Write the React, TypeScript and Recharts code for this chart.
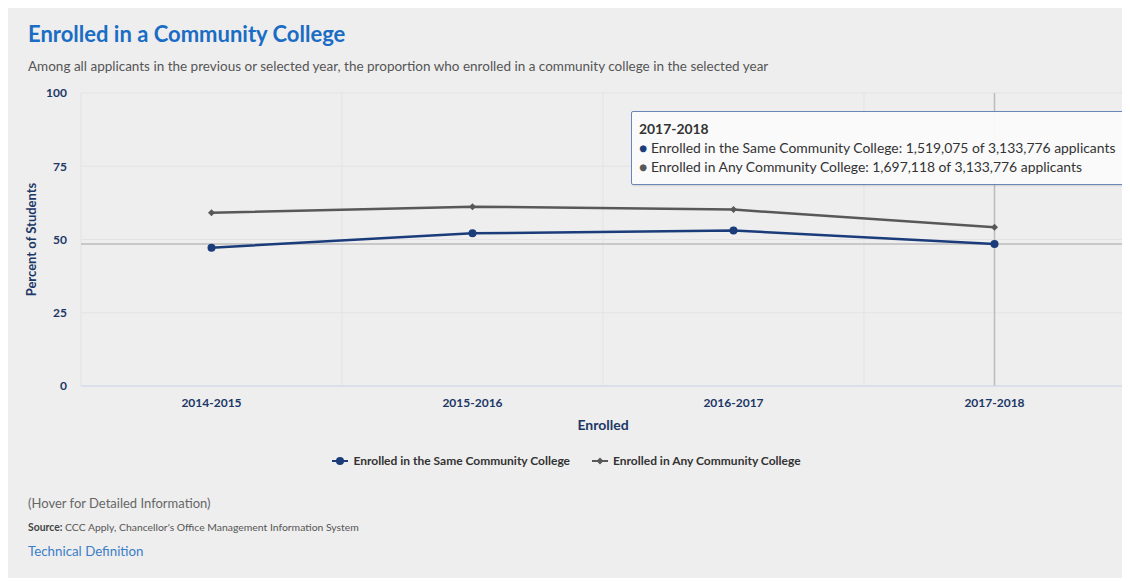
import React from 'react';
import {
  LineChart, Line, XAxis, YAxis, CartesianGrid, Tooltip, Legend, ReferenceLine,
} from 'recharts';

const years = ['2014-2015', '2015-2016', '2016-2017', '2017-2018'];
const sameValues = [47.2, 52.1, 53.1, 48.5];
const anyValues = [59.1, 61.2, 60.2, 54.2];
const yTicks = [0, 25, 50, 75, 100];
const hoverYear = '2017-2018';
const hoverSameCount = '1,519,075';
const hoverAnyCount = '1,697,118';
const hoverTotal = '3,133,776';

const SAME_NAME = 'Enrolled in the Same Community College';
const ANY_NAME = 'Enrolled in Any Community College';
const NAVY = '#1b3c7a';
const GRAY = '#585858';
const AXIS_TEXT = '#1c3766';
const FONT = 'Lato, "Open Sans", sans-serif';

const data = years.map((y, i) => ({ year: y, same: sameValues[i], any: anyValues[i] }));
const hoverIndex = years.indexOf(hoverYear);

const Diamond = (props: any) => {
  const { cx, cy, fill } = props;
  if (cx == null || cy == null) return null;
  const s = 3.5;
  return <path d={`M${cx},${cy - s}L${cx + s},${cy}L${cx},${cy + s}L${cx - s},${cy}Z`} fill={fill} />;
};

const TooltipBox = (props: any) => {
  const { payload, label } = props;
  if (!payload || !payload.length) return null;
  return (
    <div
      style={{
        background: 'rgba(250,250,250,0.97)',
        border: '1px solid #6a86b8',
        borderRadius: 2,
        padding: '7px 8px 8px 7px',
        fontFamily: FONT,
        fontSize: 13.9,
        color: '#333',
        whiteSpace: 'nowrap',
        lineHeight: '19px',
        boxShadow: '1px 1px 2px rgba(0,0,0,0.12)',
      }}
    >
      <div style={{ fontWeight: 700 }}>{label}</div>
      <div>
        <span style={{ color: NAVY }}>●</span> {SAME_NAME}: {hoverSameCount} of {hoverTotal} applicants
      </div>
      <div>
        <span style={{ color: GRAY }}>●</span> {ANY_NAME}: {hoverAnyCount} of {hoverTotal} applicants
      </div>
    </div>
  );
};

const LegendContent = () => {
  const items = [
    { name: SAME_NAME, color: NAVY, shape: 'circle' },
    { name: ANY_NAME, color: GRAY, shape: 'diamond' },
  ];
  return (
    <div style={{ display: 'flex', justifyContent: 'center', gap: 22, fontFamily: FONT, fontSize: 12, fontWeight: 700, color: '#333' }}>
      {items.map((it) => (
        <div key={it.name} style={{ display: 'flex', alignItems: 'center', gap: 5 }}>
          <svg width={16} height={10}>
            <line x1={0} y1={5} x2={16} y2={5} stroke={it.color} strokeWidth={2} />
            {it.shape === 'circle' ? (
              <circle cx={8} cy={5} r={4} fill={it.color} />
            ) : (
              <path d="M8,1.5L11.5,5L8,8.5L4.5,5Z" fill={it.color} />
            )}
          </svg>
          <span>{it.name}</span>
        </div>
      ))}
    </div>
  );
};

export default function App() {
  const vGen = ({ offset }: any) => {
    const n = years.length;
    const pts: number[] = [];
    for (let i = 0; i <= n; i++) pts.push(offset.left + (offset.width * i) / n);
    return pts;
  };
  return (
    <div style={{ position: 'relative', width: 1122, height: 570, background: '#eeeeee', fontFamily: FONT }}>
      <style>{'html,body{overflow:hidden}'}</style>
      <div style={{ position: 'absolute', left: 20, top: 12, fontSize: 22, fontWeight: 700, color: '#1a6cc4' }}>
        Enrolled in a Community College
      </div>
      <div style={{ position: 'absolute', left: 20, top: 50, fontSize: 13.5, color: '#555' }}>
        Among all applicants in the previous or selected year, the proportion who enrolled in a community college in the selected year
      </div>
      <div style={{ position: 'absolute', left: 0, top: 72 }}>
        <LineChart width={1122} height={400} data={data} margin={{ top: 13, right: 5, bottom: 12, left: 0 }}>
          <CartesianGrid stroke="#e3e3e6" verticalCoordinatesGenerator={vGen} />
          <XAxis
            dataKey="year"
            scale="band"
            tickLine={false}
            tickSize={0}
            tickMargin={12}
            height={67}
            axisLine={{ stroke: '#ccd6eb' }}
            tick={{ fill: AXIS_TEXT, fontSize: 12, fontWeight: 700, fontFamily: FONT }}
            label={{ value: 'Enrolled', position: 'insideBottom', offset: 23, fill: AXIS_TEXT, fontSize: 14, fontWeight: 700, fontFamily: FONT }}
          />
          <YAxis
            domain={[0, 100]}
            ticks={yTicks}
            width={73}
            axisLine={false}
            tickLine={false}
            tickSize={0}
            tickMargin={14}
            tick={{ fill: AXIS_TEXT, fontSize: 12, fontWeight: 700, fontFamily: FONT }}
            label={{ value: 'Percent of Students', angle: -90, position: 'insideLeft', offset: 23, style: { textAnchor: 'middle' }, fill: AXIS_TEXT, fontSize: 13, fontWeight: 700, fontFamily: FONT }}
          />
          <ReferenceLine y={sameValues[hoverIndex]} stroke="#c8c8c8" strokeWidth={2} />
          <ReferenceLine x={hoverYear} stroke="#bcbcbc" strokeWidth={1.5} />
          <Line
            type="linear"
            dataKey="any"
            name={ANY_NAME}
            stroke={GRAY}
            strokeWidth={2.5}
            dot={<Diamond fill={GRAY} />}
            activeDot={false}
            isAnimationActive={false}
          />
          <Line
            type="linear"
            dataKey="same"
            name={SAME_NAME}
            stroke={NAVY}
            strokeWidth={2.5}
            dot={{ r: 4, fill: NAVY, stroke: NAVY, strokeWidth: 0 }}
            activeDot={false}
            isAnimationActive={false}
          />
          <Legend verticalAlign="bottom" content={<LegendContent />} />
          <Tooltip
            defaultIndex={hoverIndex}
            active={true}
            cursor={false}
            position={{ x: 623, y: 31 }}
            content={<TooltipBox />}
            isAnimationActive={false}
            wrapperStyle={{ zIndex: 5 }}
          />
        </LineChart>
      </div>
      <div style={{ position: 'absolute', left: 20, top: 487, fontSize: 13, color: '#666' }}>
        (Hover for Detailed Information)
      </div>
      <div style={{ position: 'absolute', left: 20, top: 513, fontSize: 10.4, color: '#555' }}>
        <b style={{ color: '#444' }}>Source:</b> CCC Apply, Chancellor's Office Management Information System
      </div>
      <div style={{ position: 'absolute', left: 20, top: 535, fontSize: 13.3, color: '#3a7dc9' }}>
        Technical Definition
      </div>
    </div>
  );
}
